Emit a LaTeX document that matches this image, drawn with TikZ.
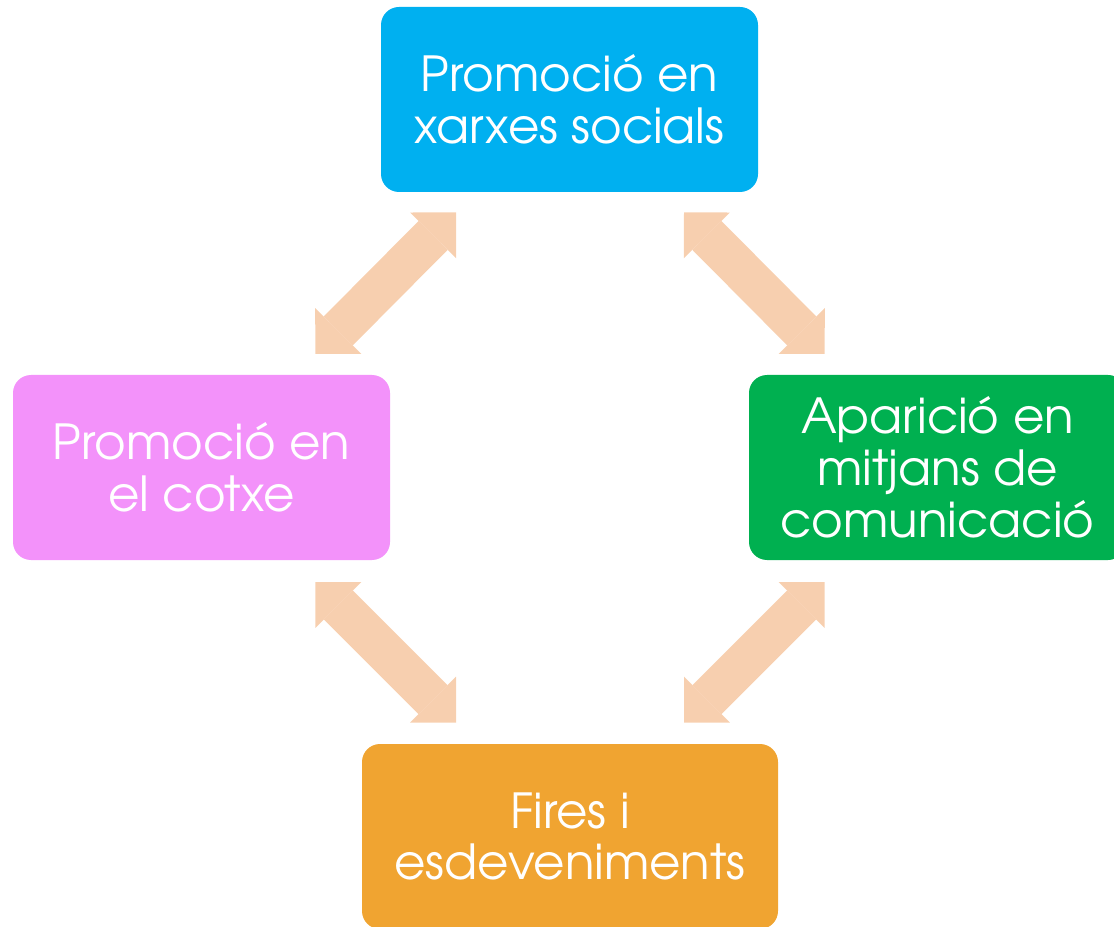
\documentclass[tikz,border=0pt]{standalone}
\usepackage{fontspec}
\setmainfont{TeX Gyre Adventor}
\usetikzlibrary{arrows.meta, calc}
\definecolor{caixablava}{RGB}{0,176,240}
\definecolor{caixarosa}{RGB}{243,146,250}
\definecolor{caixaverda}{RGB}{0,176,80}
\definecolor{caixataronja}{RGB}{240,164,49}
\definecolor{colfletxa}{RGB}{247,207,175}

\begin{document}
\begin{tikzpicture}[
    caixa/.style={rectangle,rounded corners=0.36cm,minimum width=7.54cm,minimum height=3.7cm,inner sep=0pt,text=white,align=center,font=\fontsize{27.5}{29.5}\selectfont},
    fletxa/.style={line width=0.82cm,color=colfletxa,{Triangle[length=0.65cm,width=1.3cm,line width=0pt]}-{Triangle[length=0.65cm,width=1.3cm,line width=0pt]}}
]
    \clip (0,0) rectangle (22.28,-18.54);

    % Caixes
    \node[caixa,fill=caixablava] (xarxes) at (11.39,-1.99) {Promoció en\\xarxes socials};
    \node[caixa,fill=caixarosa] (cotxe) at (4.03,-9.35) {Promoció en\\el cotxe};
    \node[caixa,fill=caixaverda] (mitjans) at (18.75,-9.35) {Aparició en\\mitjans de\\comunicació};
    \node[caixa,fill=caixataronja,minimum width=8.32cm] (fires) at (11.40,-16.73) {Fires i\\esdeveniments};

    % Fletxes dobles
    \draw[fletxa] ($(xarxes.south)+(-2.27,-0.4)$) -- ($(cotxe.east)+(-1.5,2.27)$);
    \draw[fletxa] ($(xarxes.south)+(2.29,-0.4)$) -- ($(mitjans.west)+(1.52,2.27)$);
    \draw[fletxa] ($(cotxe.east)+(-1.5,-2.29)$) -- ($(fires.north)+(-2.28,0.42)$);
    \draw[fletxa] ($(mitjans.west)+(1.52,-2.29)$) -- ($(fires.north)+(2.28,0.42)$);
\end{tikzpicture}
\end{document}
